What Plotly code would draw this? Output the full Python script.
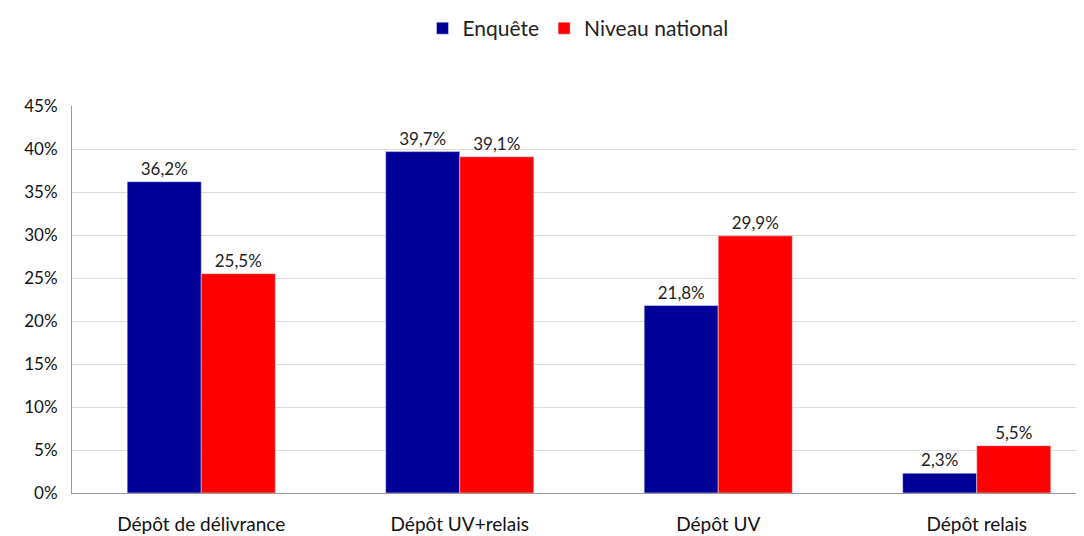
import plotly.graph_objects as go

categories = ["Dépôt de délivrance", "Dépôt UV+relais", "Dépôt UV", "Dépôt relais"]
enquete = [36.2, 39.7, 21.8, 2.3]
national = [25.5, 39.1, 29.9, 5.5]
y_ticks = [0, 5, 10, 15, 20, 25, 30, 35, 40, 45]

def lbl(v):
    return [f"{x:.1f}%".replace(".", ",") for x in v]

FONT = "Lato, 'Open Sans', sans-serif"

fig = go.Figure()
fig.add_trace(go.Bar(x=categories, y=enquete, name="Enquête", marker_color="#000099",
                     text=lbl(enquete), textposition="outside", cliponaxis=False,
                     textfont=dict(size=17, color="#222")))
fig.add_trace(go.Bar(x=categories, y=national, name="Niveau national", marker_color="#FF0000",
                     text=lbl(national), textposition="outside", cliponaxis=False,
                     textfont=dict(size=17, color="#222")))

fig.update_layout(
    width=1084, height=536,
    margin=dict(l=64, r=8, t=98, b=51, autoexpand=False),
    paper_bgcolor="white", plot_bgcolor="white",
    barmode="group", bargap=0.427, bargroupgap=0,
    font=dict(family=FONT, color="#222"),
    legend=dict(orientation="h", x=0.5, xanchor="center", y=1.0, yanchor="top",
                yref="container", font=dict(size=21, color="#222"), traceorder="normal",
                itemwidth=30, borderwidth=0),
    xaxis=dict(range=[-0.5, 3.415], showline=True, linecolor="#999", linewidth=1,
               tickfont=dict(size=19, color="#111"), ticks="", showgrid=False,
               automargin=False, ticklabelstandoff=14),
    yaxis=dict(range=[0, 45], tickvals=y_ticks, ticktext=[f"{t}%" for t in y_ticks],
               showline=True, linecolor="#999", linewidth=1, showgrid=True,
               gridcolor="#dcdcdc", tickfont=dict(size=17, color="#111"), ticks="",
               zeroline=False, automargin=False, ticklabelstandoff=10),
    showlegend=True,
)

fig.write_html("out.html")
